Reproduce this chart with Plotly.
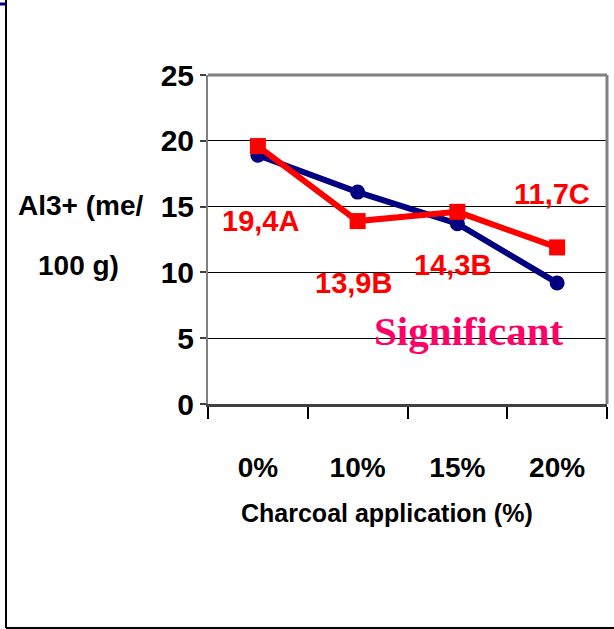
import plotly.graph_objects as go

categories = ["0%", "10%", "15%", "20%"]
series_blue = [18.9, 16.1, 13.7, 9.2]
series_red = [19.6, 13.9, 14.6, 11.9]
red_labels = ["19,4A", "13,9B", "14,3B", "11,7C"]
y_ticks = [0, 5, 10, 15, 20, 25]
x_title = "Charcoal application (%)"
y_title_lines = ["Al3+ (me/", "100 g)"]

SANS = "Liberation Sans, Arial, sans-serif"

fig = go.Figure()
fig.add_trace(go.Scatter(
    x=categories, y=series_blue, mode="lines+markers",
    line=dict(color="#000080", width=6),
    marker=dict(symbol="circle", size=15, color="#000080"),
    showlegend=False, cliponaxis=False,
))
fig.add_trace(go.Scatter(
    x=categories, y=series_red, mode="lines+markers",
    line=dict(color="#FF0000", width=6),
    marker=dict(symbol="square", size=16, color="#FF0000"),
    showlegend=False, cliponaxis=False,
))

# label offsets (pixels) relative to the red points
label_shift = [(3, -75), (-4, -62), (-5, -53), (-5, 53)]
for cat, val, txt, (dx, dy) in zip(categories, series_red, red_labels, label_shift):
    fig.add_annotation(x=cat, y=val, text=txt, showarrow=False,
                       xshift=dx, yshift=dy,
                       font=dict(family=SANS, size=29, color="#FF0000", weight="bold"))

L, R, T, B = 208, 7, 75, 225
W, H = 614, 629
pw, ph = W - L - R, H - T - B


def px2paper(px, py):
    return (px - L) / pw, (H - B - py) / ph


sx, sy = px2paper(468, 331)
fig.add_annotation(x=sx, y=sy, xref="paper", yref="paper", text="Significant",
                   showarrow=False, xanchor="center", yanchor="middle",
                   font=dict(family="Liberation Serif, Times New Roman, serif", size=41,
                             color="#FF0066", weight="bold"))

# y-axis title (horizontal, two lines)
for txt, (px, py) in zip(y_title_lines, [(80, 205), (78, 265)]):
    ax, ay = px2paper(px, py)
    fig.add_annotation(x=ax, y=ay, xref="paper", yref="paper", text=txt, showarrow=False,
                       xanchor="center", yanchor="middle",
                       font=dict(family=SANS, size=28, color="#000000", weight="bold"))

# x-axis title
tx, ty = px2paper(387, 513)
fig.add_annotation(x=tx, y=ty, xref="paper", yref="paper", text=x_title, showarrow=False,
                   xanchor="center", yanchor="middle",
                   font=dict(family=SANS, size=25, color="#000000", weight="bold"))

# outer frame lines and plot-area border
x0, y0 = px2paper(6, 0)
x1, y1 = px2paper(614, 628)
fig.add_shape(type="line", xref="paper", yref="paper", x0=x0, x1=x0, y0=y0, y1=y1,
              line=dict(color="#000000", width=2))
fig.add_shape(type="line", xref="paper", yref="paper", x0=x0, x1=x1, y0=y1, y1=y1,
              line=dict(color="#000000", width=2))
xa, ya = px2paper(0, 4)
fig.add_shape(type="line", xref="paper", yref="paper", x0=xa, x1=x0, y0=ya, y1=ya,
              line=dict(color="#000080", width=3))
fig.add_shape(type="line", xref="paper", yref="paper", x0=0, x1=1, y0=1, y1=1,
              line=dict(color="#808080", width=3), layer="above")
fig.add_shape(type="line", xref="paper", yref="paper", x0=1, x1=1, y0=0, y1=1,
              line=dict(color="#808080", width=3), layer="above")

fig.update_layout(
    width=W, height=H,
    margin=dict(l=L, r=R, t=T, b=B),
    paper_bgcolor="white", plot_bgcolor="white",
    xaxis=dict(
        type="category", range=[-0.5, 3.5],
        showgrid=False, zeroline=False,
        showline=True, linecolor="#404040", linewidth=3,
        ticks="outside", tickson="boundaries", ticklen=12, tickwidth=2, tickcolor="#000000",
        ticklabelstandoff=36,
        tickfont=dict(family=SANS, size=28, color="#000000", weight="bold"),
    ),
    yaxis=dict(
        range=[0, 25], tickvals=y_ticks,
        showgrid=True, gridcolor="#000000", gridwidth=1, zeroline=False,
        showline=True, linecolor="#808080", linewidth=2,
        ticks="outside", ticklen=6, tickwidth=2, tickcolor="#404040",
        tickfont=dict(family=SANS, size=30, color="#000000", weight="bold"),
    ),
)

fig.write_html("out.html")
